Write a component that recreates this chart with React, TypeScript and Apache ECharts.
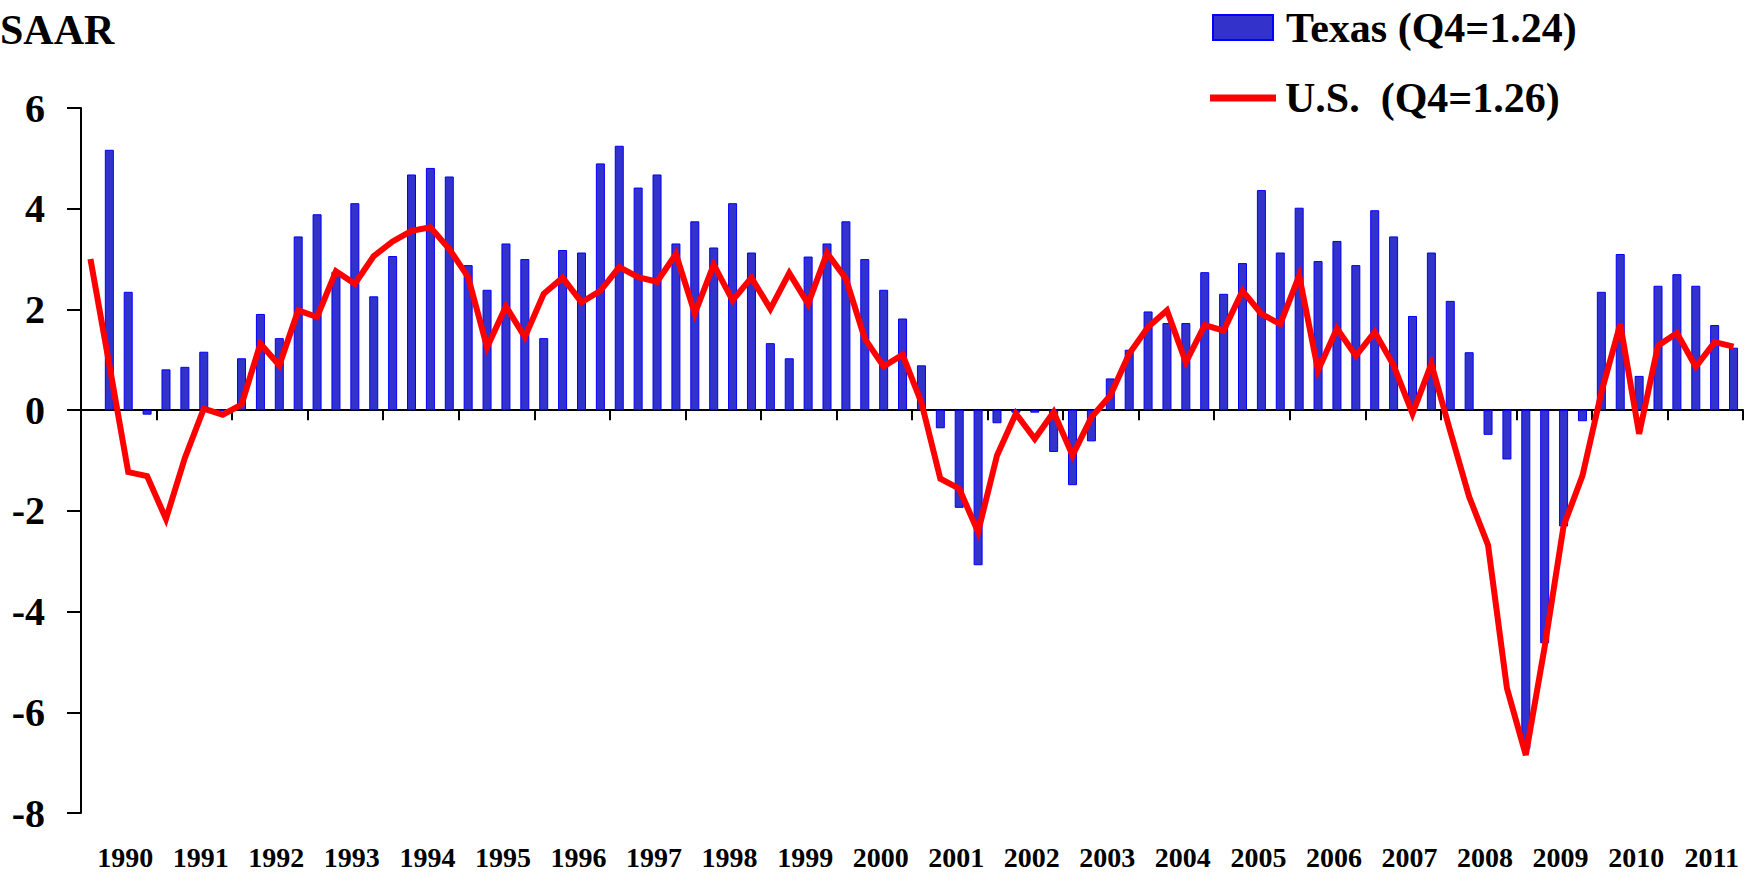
import React, { useEffect, useRef } from "react";
import * as echarts from "echarts";

const years = [1990, 1991, 1992, 1993, 1994, 1995, 1996, 1997, 1998, 1999, 2000, 2001, 2002, 2003, 2004, 2005, 2006, 2007, 2008, 2009, 2010, 2011];
const quarters = ["Q1", "Q2", "Q3", "Q4"];
const categories = years.flatMap((y) => quarters.map((q) => `${y}${q}`));

const texas: (number | null)[] = [
  null, 5.17, 2.35, -0.09, 0.81, 0.86, 1.16, 0.0,
  1.03, 1.91, 1.43, 3.45, 3.89, 2.75, 4.11, 2.26,
  3.06, 4.68, 4.81, 4.64, 2.88, 2.39, 3.31, 3.0,
  1.43, 3.18, 3.13, 4.9, 5.25, 4.42, 4.68, 3.31,
  3.75, 3.23, 4.11, 3.13, 1.33, 1.03, 3.05, 3.31,
  3.75, 3.0, 2.39, 1.82, 0.89, -0.36, -1.94, -3.08,
  -0.26, -0.05, -0.05, -0.83, -1.49, -0.62, 0.63, 1.2,
  1.96, 1.73, 1.73, 2.74, 2.31, 2.92, 4.37, 3.13,
  4.02, 2.96, 3.36, 2.88, 3.97, 3.45, 1.87, 3.13,
  2.17, 1.15, -0.49, -0.98, -6.73, -4.63, -2.31, -0.22,
  2.35, 3.1, 0.68, 2.47, 2.7, 2.47, 1.69, 1.24,
];

const us: number[] = [
  3.0, 0.9, -1.23, -1.31, -2.16, -0.95, 0.03, -0.09,
  0.11, 1.32, 0.89, 1.98, 1.85, 2.76, 2.51, 3.06,
  3.35, 3.56, 3.63, 3.2, 2.64, 1.25, 2.06, 1.45,
  2.31, 2.63, 2.14, 2.37, 2.84, 2.64, 2.55, 3.1,
  1.92, 2.89, 2.18, 2.63, 2.01, 2.72, 2.11, 3.12,
  2.61, 1.42, 0.87, 1.1, 0.15, -1.36, -1.56, -2.42,
  -0.9, -0.07, -0.57, -0.04, -0.9, -0.14, 0.29, 1.12,
  1.65, 1.98, 0.95, 1.69, 1.58, 2.37, 1.91, 1.71,
  2.67, 0.79, 1.62, 1.08, 1.55, 0.89, -0.07, 0.92,
  -0.42, -1.72, -2.68, -5.52, -6.85, -4.7, -2.3, -1.3,
  0.35, 1.71, -0.47, 1.28, 1.53, 0.86, 1.35, 1.26,
];

const texasName = "Texas (Q4=1.24)";
const usName = "U.S.  (Q4=1.26)";
const FONT = "'Liberation Serif', 'Times New Roman', serif";

export default function App() {
  const ref = useRef<HTMLDivElement>(null);
  useEffect(() => {
    if (!ref.current) return;
    const chart = echarts.init(ref.current, undefined, { renderer: "svg" });
    chart.setOption({
      animation: false,
      backgroundColor: "#ffffff",
      grid: { left: 81, right: 11, top: 108, bottom: 59, containLabel: false },
      graphic: [
        {
          type: "text",
          left: 0,
          top: 9,
          style: { text: "SAAR", font: `bold 42px ${FONT}`, fill: "#000" },
        },
      ],
      legend: [
        {
          data: [{ name: texasName, icon: "rect" }],
          left: 1207,
          top: 1.5,
          itemWidth: 60,
          itemHeight: 25,
          selectedMode: false,
          textStyle: { fontFamily: FONT, fontWeight: "bold", fontSize: 42, color: "#000", lineHeight: 42, padding: [0, 0, 0, 8] },
        },
        {
          data: [{ name: usName, icon: "rect", itemStyle: { color: "#ff0000", borderWidth: 0 } }],
          left: 1205,
          top: 72,
          itemWidth: 66,
          itemHeight: 7,
          selectedMode: false,
          textStyle: { fontFamily: FONT, fontWeight: "bold", fontSize: 42, color: "#000", lineHeight: 42, padding: [0, 0, 0, 4] },
        },
      ],
      xAxis: [
        {
          type: "category",
          data: categories,
          boundaryGap: true,
          axisLine: { show: true, onZero: true, lineStyle: { color: "#000", width: 2 } },
          axisTick: { show: true, interval: 3, length: 10, inside: false, lineStyle: { color: "#000", width: 2 } },
          axisLabel: { show: false },
          splitLine: { show: false },
        },
        {
          type: "category",
          data: categories,
          position: "bottom",
          boundaryGap: true,
          axisLine: { show: false, onZero: false },
          axisTick: { show: false },
          splitLine: { show: false },
          axisLabel: {
            show: true,
            interval: (i: number) => i % 4 === 2,
            formatter: (v: string) => v.slice(0, 4),
            fontFamily: FONT,
            fontWeight: "bold",
            fontSize: 28,
            color: "#000",
            margin: 30,
            padding: [0, 6, 0, 0],
          },
        },
      ],
      yAxis: {
        type: "value",
        min: -8,
        max: 6,
        interval: 2,
        axisLine: { show: true, lineStyle: { color: "#000", width: 2 } },
        axisTick: { show: true, length: 14, inside: false, lineStyle: { color: "#000", width: 2 } },
        splitLine: { show: false },
        axisLabel: { fontFamily: FONT, fontWeight: "bold", fontSize: 40, color: "#000", margin: 36 },
      },
      series: [
        {
          name: texasName,
          type: "bar",
          xAxisIndex: 0,
          data: texas,
          barWidth: 9,
          itemStyle: { color: "#3333cc", borderColor: "#0000ff", borderWidth: 1 },
          z: 2,
        },
        {
          name: usName,
          type: "line",
          xAxisIndex: 0,
          data: us,
          showSymbol: false,
          symbol: "none",
          color: "#ff0000",
          lineStyle: { color: "#ff0000", width: 6, join: "miter" },
          itemStyle: { color: "#ff0000" },
          z: 3,
        },
      ],
    });
    return () => chart.dispose();
  }, []);
  return <div ref={ref} style={{ position: "fixed", left: 0, top: 0, width: 1754, height: 872 }} />;
}
